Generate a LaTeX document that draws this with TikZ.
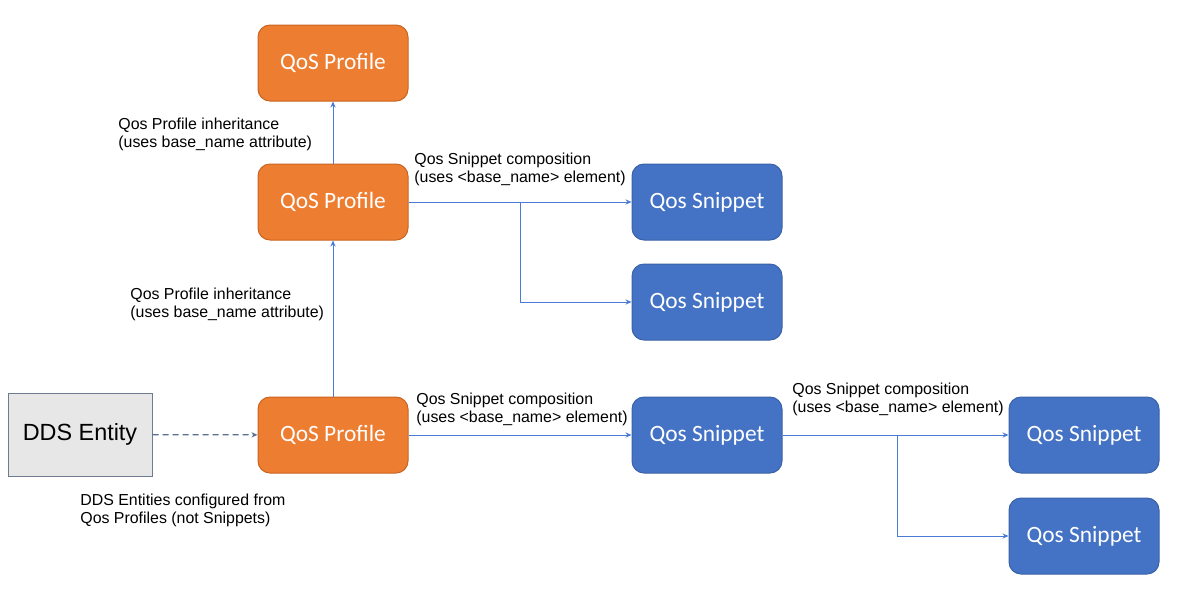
\documentclass[tikz,border=0pt]{standalone}
\usepackage{fontspec}
\setmainfont{Liberation Sans}
\newfontfamily\calfont{Carlito}
\usetikzlibrary{arrows.meta}
\definecolor{qorange}{HTML}{ED7D31}
\definecolor{qorangeb}{HTML}{C9651F}
\definecolor{qblue}{HTML}{4472C4}
\definecolor{qblueb}{HTML}{3A62A8}
\definecolor{qline}{HTML}{4A7BD6}
\definecolor{entfill}{HTML}{E7E7E7}
\definecolor{entborder}{HTML}{6F7B91}
\definecolor{dashc}{HTML}{5B6F8F}
\tikzset{
  profbox/.style={draw=qorangeb, fill=qorange, rounded corners=6pt, minimum width=75pt, minimum height=38pt, text=white, font=\calfont\fontsize{11.7}{13}\selectfont, line width=0.5pt},
  snipbox/.style={draw=qblueb, fill=qblue, rounded corners=6pt, minimum width=75pt, minimum height=38pt, text=white, font=\calfont\fontsize{11.7}{13}\selectfont, line width=0.5pt},
  entbox/.style={draw=entborder, fill=entfill, minimum width=72pt, minimum height=41.5pt, font=\fontsize{11.7}{14}\selectfont, line width=0.5pt},
  lbl/.style={align=left, anchor=north west, inner sep=0pt, font=\fontsize{7.95}{9}\selectfont},
  conn/.style={draw=qline, line width=0.5pt, -{Stealth[length=3pt,width=2.6pt]}},
  dconn/.style={draw=dashc, line width=0.6pt, dash pattern=on 3pt off 2pt, -{Stealth[length=3pt,width=2.6pt]}}
}
\begin{document}
\begin{tikzpicture}[x=0.5pt,y=-0.5pt]
\fill[white] (0,0) rectangle (1200,591);
\useasboundingbox (0,0) rectangle (1200,591);
\node[profbox] (p1) at (333,63) {QoS Profile};
\node[profbox] (p2) at (333,202) {QoS Profile};
\node[profbox] (p3) at (333,435) {QoS Profile};
\node[entbox] (e) at (80,434.5) {DDS Entity};
\node[snipbox] (s1) at (707,202) {Qos Snippet};
\node[snipbox] (s2) at (707,302) {Qos Snippet};
\node[snipbox] (s3) at (707,435) {Qos Snippet};
\node[snipbox] (s4) at (1084,435) {Qos Snippet};
\node[snipbox] (s5) at (1084,536) {Qos Snippet};
\coordinate (b1) at (520,202);
\coordinate (b2) at (897,435);
\draw[conn] (p2) -- (p1);
\draw[conn] (p3) -- (p2);
\draw[dconn] (e) -- (p3);
\draw[conn] (p2) -- (s1);
\draw[conn] (b1) |- (s2);
\draw[conn] (p3) -- (s3);
\draw[conn] (s3) -- (s4);
\draw[conn] (b2) |- (s5);
\node[lbl] (l1) at (118,118) {Qos Profile inheritance\\(uses base\_name attribute)};
\node[lbl] (l2) at (130,288) {Qos Profile inheritance\\(uses base\_name attribute)};
\node[lbl] (l3) at (414,153) {Qos Snippet composition\\(uses <base\_name> element)};
\node[lbl] (l4) at (416,393) {Qos Snippet composition\\(uses <base\_name> element)};
\node[lbl] (l5) at (792,383) {Qos Snippet composition\\(uses <base\_name> element)};
\node[lbl] (l6) at (80,494) {DDS Entities configured from\\Qos Profiles (not Snippets)};
\end{tikzpicture}
\end{document}
